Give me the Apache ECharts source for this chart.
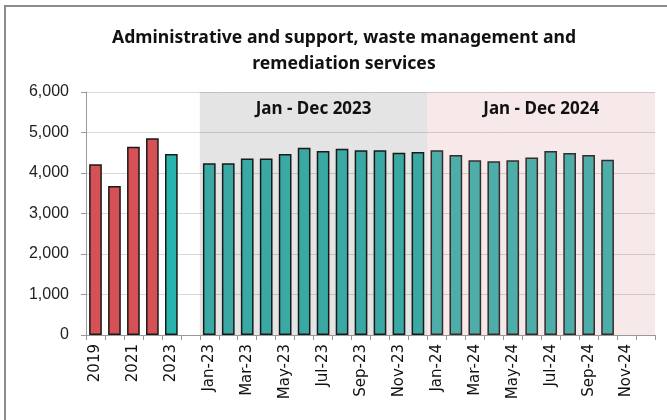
<!DOCTYPE html>
<html><head><meta charset="utf-8">
<script src="https://cdn.jsdelivr.net/npm/echarts@6/dist/echarts.min.js"></script>
<style>html,body{margin:0;padding:0;background:#fff}#c{width:667px;height:420px}</style>
</head><body><div id="c"></div>
<script>
const categories = ['2019','2020','2021','2022','2023',' ',
 'Jan-23','Feb-23','Mar-23','Apr-23','May-23','Jun-23','Jul-23','Aug-23','Sep-23','Oct-23','Nov-23','Dec-23',
 'Jan-24','Feb-24','Mar-24','Apr-24','May-24','Jun-24','Jul-24','Aug-24','Sep-24','Oct-24','Nov-24','Dec-24'];
const annualValues = [4215, 3680, 4650, 4855, 4470];
const monthly2023 = [4240, 4240, 4355, 4355, 4470, 4625, 4545, 4600, 4560, 4560, 4500, 4520];
const monthly2024 = [4560, 4445, 4315, 4290, 4315, 4380, 4545, 4495, 4445, 4330, null, null];
const yTicks = [0, 1000, 2000, 3000, 4000, 5000, 6000];
const bandLabels = ['Jan - Dec 2023', 'Jan - Dec 2024'];

const red = '#D65155', tealA = '#28B3AD', teal23 = '#3AA8A3', teal24 = '#4DAEA9';
const data = [];
annualValues.forEach((v, i) => data.push({value: v, itemStyle: {color: i < 4 ? red : tealA}}));
data.push(null);
monthly2023.forEach(v => data.push({value: v, itemStyle: {color: teal23}}));
monthly2024.forEach(v => data.push(v == null ? null : {value: v, itemStyle: {color: teal24, borderColor: '#3a2b2b'}}));

const bandMax = yTicks[yTicks.length - 1];
const bandData = categories.map((c, i) => {
  if (i < 6) return null;
  const is23 = i < 18;
  const item = {value: bandMax, itemStyle: {color: is23 ? 'rgba(0,0,0,0.105)' : 'rgba(180,40,40,0.10)'}};
  if (i === 11 || i === 23) {
    item.label = {show: true, position: 'insideTop', offset: [9.5, 4], formatter: is23 ? bandLabels[0] : bandLabels[1],
      fontFamily: 'Noto Sans', fontWeight: 'bold', fontSize: 17, color: '#111'};
  }
  return item;
});

const chart = echarts.init(document.getElementById('c'), null, {renderer: 'canvas'});
chart.setOption({
  animation: false,
  title: {
    text: 'Administrative and support, waste management and\nremediation services',
    left: 339, textAlign: 'center', top: 20,
    textStyle: {fontFamily: 'Noto Sans', fontWeight: 'bold', fontSize: 17.6, lineHeight: 26, color: '#111'}
  },
  graphic: [{type: 'polyline', shape: {points: [[5, 420], [5, 6], [667, 6]]}, style: {stroke: '#8c8c8c', lineWidth: 2, fill: null}}],
  grid: {left: 86, right: 12, top: 92, bottom: 85},
  xAxis: [{
    type: 'category', data: categories,
    axisLine: {lineStyle: {color: '#999'}},
    axisTick: {show: true, interval: 0, length: 5, lineStyle: {color: '#999'}},
    axisLabel: {interval: 1, rotate: 90, margin: 9, fontFamily: 'DejaVu Sans', fontSize: 15, color: '#111'}
  }, {
    type: 'category', data: categories, show: false
  }],
  yAxis: {
    type: 'value', min: 0, max: 6000, interval: 1000,
    axisLine: {show: true, lineStyle: {color: '#999'}},
    axisTick: {show: true, length: 5, lineStyle: {color: '#999'}},
    splitLine: {lineStyle: {color: '#d9d9d9'}},
    axisLabel: {margin: 17, fontFamily: 'Liberation Sans', fontSize: 16, color: '#222',
      formatter: v => v.toLocaleString('en-US')}
  },
  series: [{
    type: 'bar', xAxisIndex: 1, data: bandData, barWidth: '100%', z: 1, silent: true
  }, {
    type: 'bar', xAxisIndex: 0, data: data, barWidth: '67%', z: 3,
    itemStyle: {borderColor: '#1a1a1a', borderWidth: 1.5}
  }]
});
</script></body></html>
